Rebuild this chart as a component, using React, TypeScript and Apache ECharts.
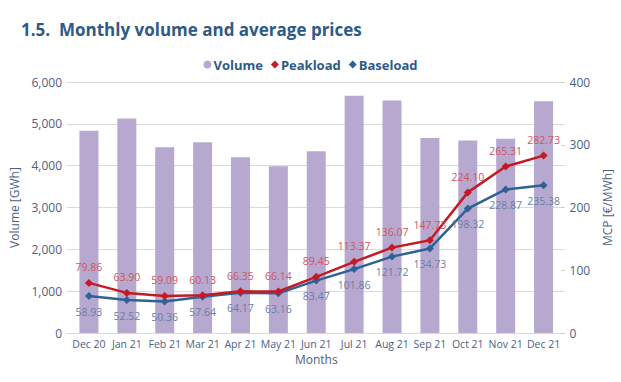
import React, { useEffect, useRef } from "react";
import * as echarts from "echarts";

const months = ["Dec 20", "Jan 21", "Feb 21", "Mar 21", "Apr 21", "May 21", "Jun 21", "Jul 21", "Aug 21", "Sep 21", "Oct 21", "Nov 21", "Dec 21"];
const volume = [4836, 5130, 4440, 4560, 4200, 3985, 4345, 5670, 5555, 4660, 4600, 4645, 5540];
const peakload = [79.86, 63.9, 59.09, 60.13, 66.35, 66.14, 89.45, 113.37, 136.07, 147.73, 224.1, 265.31, 282.73];
const baseload = [58.93, 52.52, 50.36, 57.64, 64.17, 63.16, 83.47, 101.86, 121.72, 134.73, 198.32, 228.87, 235.38];

const FONT = "'Open Sans', 'Noto Sans', sans-serif";
const AXIS_TEXT = "#4a6282";
const TITLE = "#2e5a87";

export default function App() {
  const ref = useRef<HTMLDivElement>(null);
  useEffect(() => {
    const chart = echarts.init(ref.current!, null, { renderer: "svg" });
    chart.setOption({
      animation: false,
      backgroundColor: "#ffffff",
      textStyle: { fontFamily: FONT },
      title: {
        text: "1.5.  Monthly volume and average prices",
        left: 16,
        top: 16,
        textStyle: { fontFamily: FONT, fontSize: 17, fontWeight: "bold", color: TITLE },
      },
      legend: {
        top: 53,
        left: "center",
        itemGap: 8,
        itemWidth: 8,
        itemHeight: 8,
        textStyle: { fontFamily: FONT, fontSize: 13, fontWeight: "bold", color: TITLE, padding: [0, 0, 0, -3] },
        data: [
          { name: "Volume", icon: "circle" },
          { name: "Peakload", icon: "diamond" },
          { name: "Baseload", icon: "diamond" },
        ],
      },
      grid: [
        { left: 65, right: 53, top: 82, bottom: 49 },
        { left: 70, right: 58.5, top: 82, bottom: 49 },
      ],
      xAxis: [
        {
          type: "value",
          gridIndex: 0,
          min: 0,
          max: 1,
          axisLine: { show: true, lineStyle: { color: "#d9d9d9", width: 1 } },
          axisTick: { show: false },
          axisLabel: { show: false },
          splitLine: { show: false },
        },
        {
          type: "category",
          gridIndex: 1,
          data: months,
          axisLine: { show: false },
          axisTick: { show: false },
          axisLabel: { color: AXIS_TEXT, fontSize: 10.5, margin: 5, interval: 0, fontFamily: FONT },
          name: "Months",
          nameLocation: "middle",
          nameGap: 20,
          nameTextStyle: { color: AXIS_TEXT, fontSize: 12, fontFamily: FONT },
        },
      ],
      yAxis: [
        {
          type: "value",
          gridIndex: 0,
          min: 0,
          max: 6000,
          interval: 1000,
          name: "Volume [GWh]",
          nameLocation: "middle",
          nameGap: 47,
          nameTextStyle: { color: AXIS_TEXT, fontSize: 12, fontFamily: FONT },
          axisLine: { show: false },
          axisTick: { show: false },
          axisLabel: {
            color: AXIS_TEXT,
            fontSize: 12,
            margin: 5,
            fontFamily: FONT,
            formatter: (v: number) => v.toLocaleString("en-US"),
          },
          splitLine: { lineStyle: { color: "#d9d9d9", width: 1 } },
        },
        {
          type: "value",
          gridIndex: 0,
          position: "right",
          min: 0,
          max: 400,
          interval: 100,
          name: "MCP [€/MWh]",
          nameLocation: "middle",
          nameGap: 35,
          nameTextStyle: { color: AXIS_TEXT, fontSize: 12, fontFamily: FONT },
          axisLine: { show: false },
          axisTick: { show: true, inside: true, length: 3, lineStyle: { color: "#c8c8c8" } },
          axisLabel: { color: AXIS_TEXT, fontSize: 12, margin: 5, fontFamily: FONT },
          splitLine: { show: false },
        },
        { type: "value", gridIndex: 1, min: 0, max: 6000, show: false, splitLine: { show: false } },
        { type: "value", gridIndex: 1, min: 0, max: 400, show: false, splitLine: { show: false } },
      ],
      series: [
        {
          name: "Volume",
          type: "bar",
          xAxisIndex: 1,
          yAxisIndex: 2,
          data: volume,
          barWidth: 19,
          itemStyle: { color: "#b7a8d0" },
        },
        {
          name: "Peakload",
          type: "line",
          xAxisIndex: 1,
          yAxisIndex: 3,
          data: peakload,
          symbol: "diamond",
          symbolSize: 8,
          lineStyle: { color: "#c41a24", width: 2.5 },
          itemStyle: { color: "#c41a24" },
          label: {
            show: true,
            position: "top",
            distance: 6,
            color: "#d0565e",
            fontSize: 10.5,
            fontFamily: FONT,
            formatter: (p: any) => p.value.toFixed(2),
          },
          z: 4,
        },
        {
          name: "Baseload",
          type: "line",
          xAxisIndex: 1,
          yAxisIndex: 3,
          data: baseload,
          symbol: "diamond",
          symbolSize: 8,
          lineStyle: { color: "#2e6196", width: 2.5 },
          itemStyle: { color: "#2e6196" },
          label: {
            show: true,
            position: "bottom",
            distance: 6,
            color: "#6a7ea6",
            fontSize: 10.5,
            fontFamily: FONT,
            formatter: (p: any) => p.value.toFixed(2),
          },
          z: 3,
        },
      ],
    });
    return () => chart.dispose();
  }, []);
  return <div ref={ref} style={{ width: 621, height: 382, position: "absolute", left: 0, top: 0 }} />;
}
